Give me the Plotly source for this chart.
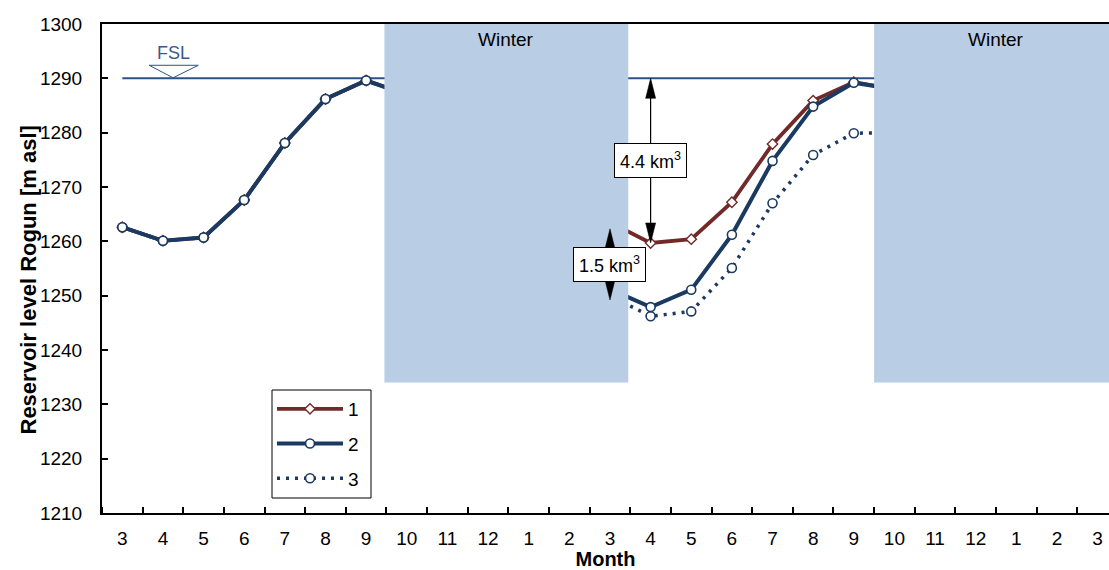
import plotly.graph_objects as go

# Category labels along the x axis (two hydrological years)
month_labels = ["3", "4", "5", "6", "7", "8", "9", "10", "11", "12", "1", "2", "3",
                "4", "5", "6", "7", "8", "9", "10", "11", "12", "1", "2", "3"]

# Reservoir level [m asl]; winter months are hidden under the shaded boxes (estimated)
series1 = [1262.6, 1260.1, 1260.7, 1267.6, 1278.1, 1286.2, 1289.6,
           1287.0, 1283.0, 1277.0, 1271.0, 1266.0, 1263.5,
           1259.7, 1260.4, 1267.2, 1277.9, 1285.9, 1289.3, 1288.0]
series2 = [1262.6, 1260.1, 1260.7, 1267.6, 1278.1, 1286.2, 1289.6,
           1287.0, 1281.0, 1273.0, 1265.0, 1257.0, 1251.2,
           1247.9, 1251.1, 1261.2, 1274.8, 1284.8, 1289.2, 1288.0]
series3 = [1262.6, 1260.1, 1260.7, 1267.6, 1278.1, 1286.2, 1289.6,
           1287.0, 1280.0, 1271.0, 1263.0, 1255.5, 1250.0,
           1246.2, 1247.1, 1255.1, 1267.0, 1275.9, 1279.9, 1280.0]

fsl_level = 1290
winter_periods = [(6.45, 12.45), (18.5, 24.5)]
winter_bottom = 1234
vol_labels = ["4.4 km<sup>3</sup>", "1.5 km<sup>3</sup>"]

FONT = "Arial, 'Liberation Sans', sans-serif"
RED = "#722A28"
NAVY = "#1B3A62"
FSL_BLUE = "#2E5286"
BOX = "#B9CDE5"

# figure geometry
W, H = 1109, 570
ML, MR, MT, MB = 102, 0, 24, 57
X_RANGE = [-0.5, 24.28]
Y_RANGE = [1210, 1300]
PW, PH = W - ML - MR, H - MT - MB
px_per_x = PW / (X_RANGE[1] - X_RANGE[0])
px_per_y = PH / (Y_RANGE[1] - Y_RANGE[0])

x1 = list(range(len(series1)))
x2 = list(range(len(series2)))
x3 = list(range(len(series3)))

fig = go.Figure()

fig.add_trace(go.Scatter(
    x=x3, y=series3, name="3", mode="lines+markers", legendgroup="g3", legendrank=3,
    line=dict(color=NAVY, width=3.5, dash="3px,6px"),
    marker=dict(symbol="circle", size=9, color="white", line=dict(color=NAVY, width=1.6)),
))
fig.add_trace(go.Scatter(
    x=x1, y=series1, name="1", mode="lines+markers", legendgroup="g1", legendrank=1,
    line=dict(color=RED, width=3.8),
    marker=dict(symbol="diamond", size=8, color="white", line=dict(color=RED, width=1.4)),
))
fig.add_trace(go.Scatter(
    x=x2, y=series2, name="2", mode="lines+markers", legendgroup="g2", legendrank=2,
    line=dict(color=NAVY, width=4),
    marker=dict(symbol="circle", size=9, color="white", line=dict(color=NAVY, width=1.6)),
))

shapes = [
    dict(type="line", xref="x", yref="y", x0=0, x1=24.5, y0=fsl_level, y1=fsl_level,
         line=dict(color=FSL_BLUE, width=2), layer="below"),
    dict(type="path", xref="x", yref="y",
         path="M 0.66 1292.4 L 1.87 1292.4 L 1.25 1290.1 Z",
         line=dict(color=FSL_BLUE, width=1), fillcolor="rgba(0,0,0,0)", layer="above"),
]
for (a, b) in winter_periods:
    shapes.append(dict(type="rect", xref="x", yref="y", x0=a, x1=b, y0=winter_bottom, y1=1300,
                       fillcolor=BOX, line=dict(width=0), layer="above"))


def double_arrow(x, y_top, y_bot, head_len_px=20, head_w_px=10):
    hl = head_len_px / px_per_y
    hw = head_w_px / 2 / px_per_x
    out = [dict(type="line", xref="x", yref="y", x0=x, x1=x, y0=y_top - hl * 0.5, y1=y_bot + hl * 0.5,
                line=dict(color="black", width=1.2), layer="above")]
    out.append(dict(type="path", xref="x", yref="y",
                    path=f"M {x} {y_top} L {x - hw} {y_top - hl} L {x + hw} {y_top - hl} Z",
                    fillcolor="black", line=dict(color="black", width=0.5), layer="above"))
    out.append(dict(type="path", xref="x", yref="y",
                    path=f"M {x} {y_bot} L {x - hw} {y_bot + hl} L {x + hw} {y_bot + hl} Z",
                    fillcolor="black", line=dict(color="black", width=0.5), layer="above"))
    return out


# 4.4 km3: from FSL down to series 1 minimum; 1.5 km3: between series 1 and 2
shapes += double_arrow(13, fsl_level, series1[13])
shapes += double_arrow(12, 1262.3, 1249.2)

# legend frame (drawn as a shape so all four sides show)
LEG_X0, LEG_X1, LEG_Y0, LEG_Y1 = 272, 371, 390, 498
shapes.append(dict(type="rect", xref="paper", yref="paper",
                   x0=(LEG_X0 - ML) / PW, x1=(LEG_X1 - ML) / PW,
                   y0=(H - MB - LEG_Y1) / PH, y1=(H - MB - LEG_Y0) / PH,
                   fillcolor="white", line=dict(color="black", width=1), layer="above"))

annotations = [
    dict(x=1.25, y=1294.7, xref="x", yref="y", text="FSL", showarrow=False,
         font=dict(size=18, color="#3B5A86", family=FONT)),
]
for (a, b) in winter_periods:
    annotations.append(dict(x=(a + b) / 2, y=1297.1, xref="x", yref="y", text="Winter",
                            showarrow=False, font=dict(size=19, color="black", family=FONT)))
annotations.append(dict(x=13, y=1274.9, xref="x", yref="y", text=vol_labels[0], showarrow=False,
                        bgcolor="white", bordercolor="black", borderwidth=1, borderpad=5,
                        font=dict(size=18, color="black", family=FONT)))
annotations.append(dict(x=12, y=1255.7, xref="x", yref="y", text=vol_labels[1], showarrow=False,
                        bgcolor="white", bordercolor="black", borderwidth=1, borderpad=5,
                        font=dict(size=18, color="black", family=FONT)))
# y axis title
annotations.append(dict(x=(27.5 - ML) / PW, y=(H - MB - 280) / PH,
                        xref="paper", yref="paper", text="<b>Reservoir level Rogun [m asl]</b>",
                        textangle=-90, showarrow=False, xanchor="center", yanchor="middle",
                        font=dict(size=22, color="black", family=FONT)))

fig.update_layout(
    width=W, height=H,
    margin=dict(l=ML, r=MR, t=MT, b=MB, autoexpand=False),
    paper_bgcolor="white", plot_bgcolor="white",
    font=dict(family=FONT, size=18, color="black"),
    shapes=shapes, annotations=annotations,
    legend=dict(x=(LEG_X0 - ML) / PW, y=(H - MB - LEG_Y0) / PH, xanchor="left", yanchor="top",
                bgcolor="rgba(0,0,0,0)", borderwidth=0,
                font=dict(size=19, family=FONT), itemwidth=66, tracegroupgap=7,
                traceorder="grouped", maxheight=400),
    xaxis=dict(
        range=X_RANGE, tickmode="array", tickvals=list(range(len(month_labels))),
        ticktext=month_labels, ticks="", showgrid=False, zeroline=False, automargin=False,
        showline=True, linecolor="black", linewidth=2, mirror=True,
        tickfont=dict(size=19, family=FONT), ticklabelstandoff=7,
        minor=dict(tickmode="linear", tick0=0.5, dtick=1, ticks="inside",
                   ticklen=6, tickwidth=1.5, tickcolor="black", showgrid=False),
        title=dict(text="<b>Month</b>", font=dict(size=20, family=FONT), standoff=0),
    ),
    yaxis=dict(
        range=Y_RANGE, dtick=10, ticks="inside", ticklen=6, tickwidth=1.5,
        tickcolor="black", showgrid=False, zeroline=False, automargin=False,
        showline=True, linecolor="black", linewidth=2,
        tickfont=dict(size=19, family=FONT), ticklabelstandoff=14,
    ),
)

fig.write_html("out.html", config={"displayModeBar": False},
               post_script="document.body.style.margin='0';")
